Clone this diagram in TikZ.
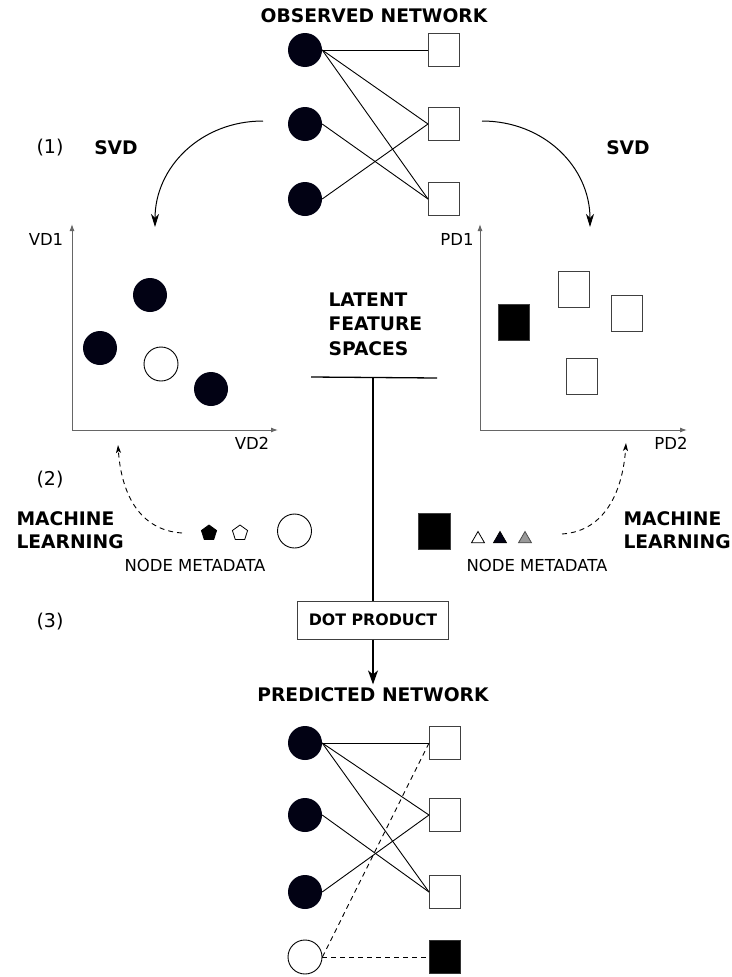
\documentclass[tikz,border=0pt]{standalone}
\usepackage{fontspec}
\setmainfont{DejaVu Sans}
\usetikzlibrary{shapes.geometric, arrows.meta, positioning}
\definecolor{nodeblack}{RGB}{2,2,20}

\begin{document}
\begin{tikzpicture}[x=1pt, y=-1pt,
      vnode/.style={circle, fill=nodeblack, minimum size=34pt, inner sep=0pt},
      vopen/.style={circle, draw, line width=0.9pt, fill=white, minimum size=34pt, inner sep=0pt},
      pnode/.style={rectangle, draw=black!75, line width=1pt, fill=white, minimum width=31pt, minimum height=33pt, inner sep=0pt},
      pfull/.style={pnode, fill=black, draw=black!80},
      ptall/.style={pnode, minimum height=36pt},
      heading/.style={font=\fontsize{18.7}{22.5}\selectfont\bfseries, align=left},
      txt/.style={font=\fontsize{16.5}{19}\selectfont},
      step label/.style={font=\fontsize{19}{22}\selectfont},
      link/.style={line width=0.9pt},
      axisline/.style={draw=black!60, line width=1pt, -{Latex[length=7pt, width=5pt]}},
      svd/.style={line width=1pt, -{Stealth[length=13pt, width=8pt, inset=4pt]}},
      ml/.style={dashed, dash pattern=on 5pt off 4pt, line width=0.9pt, -{Stealth[length=8pt, width=5pt, inset=2pt]}},
      meta/.style={regular polygon, draw, line width=0.8pt, inner sep=0pt}
    ]
    \useasboundingbox (0,0) rectangle (731,977);

    \node[heading] (obs) at (374,16) {OBSERVED NETWORK};
    \node[vnode] (o1) at (305,50) {};
    \node[vnode] (o2) at (305,124) {};
    \node[vnode] (o3) at (305,199) {};
    \node[pnode] (s1) at (444,50) {};
    \node[pnode] (s2) at (444,124) {};
    \node[pnode] (s3) at (444,199) {};
    \draw[link] (o1.east) -- (s1.west);
    \draw[link] (o1.east) -- (s2.west);
    \draw[link] (o1.east) -- (s3.west);
    \draw[link] (o2.east) -- (s3.west);
    \draw[link] (o3.east) -- (s2.west);

    \node[step label] (one) at (50,148) {(1)};
    \node[heading] (svdl) at (116,148) {SVD};
    \node[heading] (svdr) at (628,148) {SVD};
    \coordinate (svdLs) at (263,121);
    \coordinate (svdLe) at (155,227);
    \coordinate (svdRs) at (482,121);
    \coordinate (svdRe) at (590,227);
    \draw[svd] (svdLs) .. controls +(-62,0) and +(0,-60) .. (svdLe);
    \draw[svd] (svdRs) .. controls +(62,0) and +(0,-60) .. (svdRe);

    \coordinate (vo) at (72,430);
    \coordinate (vy) at (72,224);
    \coordinate (vx) at (278,430);
    \draw[axisline] (vo) -- (vy);
    \draw[axisline] (vo) -- (vx);
    \node[txt] (vd1) at (46,239) {VD1};
    \node[txt] (vd2) at (252,443) {VD2};
    \node[vnode] (v1) at (150,295) {};
    \node[vnode] (v2) at (100,348) {};
    \node[vopen] (vn) at (161,364) {};
    \node[vnode] (v3) at (211,389) {};

    \coordinate (po) at (480,430);
    \coordinate (py) at (480,224);
    \coordinate (px) at (687,430);
    \draw[axisline] (po) -- (py);
    \draw[axisline] (po) -- (px);
    \node[txt] (pd1) at (457,239) {PD1};
    \node[txt] (pd2) at (671,443) {PD2};
    \node[ptall, fill=black] (pn) at (514,322) {};
    \node[ptall] (p1) at (574,289) {};
    \node[ptall] (p2) at (627,313) {};
    \node[ptall] (p3) at (582,376) {};

    \node[heading, font=\fontsize{18.7}{24.5}\selectfont\bfseries, anchor=west] (lfs) at (325,324) {LATENT\\FEATURE\\SPACES};
    \coordinate (tl) at (311,377);
    \coordinate (tr) at (437,378);
    \coordinate (tm) at (373,377.5);
    \draw[line width=1.3pt] (tl) -- (tr);

    \node[step label] (two) at (50,480) {(2)};
    \node[heading, anchor=west] (mll) at (13,530) {MACHINE\\LEARNING};
    \node[heading, anchor=west] (mlr) at (620,530) {MACHINE\\LEARNING};

    \node[meta, regular polygon sides=5, fill=black, minimum size=16pt] (m1) at (209,533) {};
    \node[meta, regular polygon sides=5, fill=white, minimum size=16pt] (m2) at (240,533) {};
    \node[vopen] (m3) at (294.5,531) {};
    \node[txt] (metal) at (195,565) {NODE METADATA};
    \coordinate (mlLs) at (182,533);
    \coordinate (mlLe) at (118,445);
    \draw[ml] (mlLs) .. controls +(-45,-3) and +(3,45) .. (mlLe);

    \node[ptall, fill=black, minimum width=32pt] (t0) at (434,531) {};
    \node[meta, regular polygon sides=3, fill=white, minimum size=15pt] (t1) at (478,539) {};
    \node[meta, regular polygon sides=3, fill=nodeblack, minimum size=15pt] (t2) at (500,539) {};
    \node[meta, regular polygon sides=3, fill=black!40, draw=black!70, minimum size=15pt] (t3) at (525,539) {};
    \node[txt] (metar) at (537,565) {NODE METADATA};
    \coordinate (mlRs) at (562,534);
    \coordinate (mlRe) at (626,443);
    \draw[ml] (mlRs) .. controls +(45,-3) and +(-3,45) .. (mlRe);

    \node[step label] (three) at (50,622) {(3)};
    \node[rectangle, draw=black!75, line width=1pt, minimum width=151pt, minimum height=38pt,
          font=\fontsize{15.8}{18}\selectfont\bfseries] (dot) at (373,620) {DOT PRODUCT};
    \draw[line width=1.3pt] (tm) -- (dot.north);
    \node[heading] (pred) at (373,695) {PREDICTED NETWORK};
    \draw[line width=1.3pt, -{Stealth[length=14pt, width=10pt, inset=4pt]}] (dot.south) -- (pred.north);

    \node[vnode] (q1) at (305,743) {};
    \node[vnode] (q2) at (305,815) {};
    \node[vnode] (q3) at (305,892) {};
    \node[vopen] (qn) at (305,957) {};
    \node[pnode] (r1) at (445,743) {};
    \node[pnode] (r2) at (445,815) {};
    \node[pnode] (r3) at (445,892) {};
    \node[pfull] (rn) at (445,957) {};
    \draw[link] (q1.east) -- (r1.west);
    \draw[link] (q1.east) -- (r2.west);
    \draw[link] (q1.east) -- (r3.west);
    \draw[link] (q2.east) -- (r3.west);
    \draw[link] (q3.east) -- (r2.west);
    \draw[link, dashed, dash pattern=on 5pt off 4pt] (qn.east) -- (r1.west);
    \draw[link, dashed, dash pattern=on 5pt off 4pt] (qn.east) -- (rn.west);
  \end{tikzpicture}
\end{document}
